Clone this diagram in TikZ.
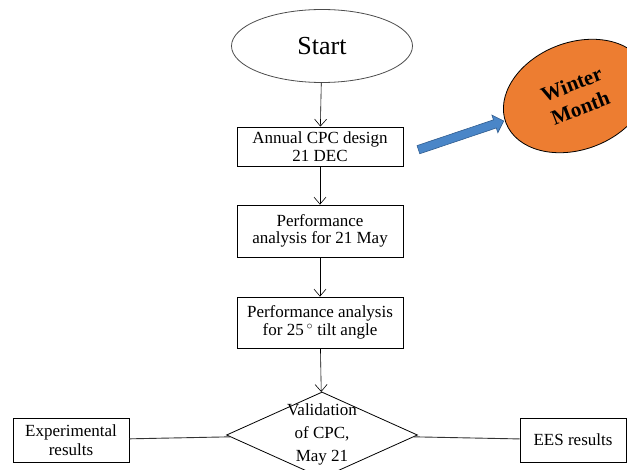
\documentclass[tikz,border=0pt]{standalone}
\usepackage{fontspec}
\setmainfont{Liberation Serif}
\usetikzlibrary{shapes.geometric,shapes.arrows,arrows.meta}
\definecolor{wintercol}{HTML}{ED7D31}
\definecolor{arrowcol}{HTML}{4A86C8}
\definecolor{arrowline}{HTML}{2F5C8F}
\begin{document}
\begin{tikzpicture}[x=1pt,y=-1pt]
        \useasboundingbox (0,0) rectangle (627,470);
        \tikzstyle{every node}=[text=black, align=center, inner sep=0pt]
        \tikzstyle{stage}=[rectangle, draw=black, line width=0.8pt, minimum width=166pt, font=\fontsize{17}{17.5}\selectfont]
        \tikzstyle{result}=[rectangle, draw=black, line width=0.8pt, minimum height=44pt, font=\fontsize{17}{19}\selectfont]
        \tikzstyle{edge}=[black, line width=0.6pt, -{Straight Barb[length=7pt,width=12pt]}]

        \node[ellipse, draw=black!70, line width=0.8pt, minimum width=181pt, minimum height=73pt, font=\fontsize{26}{28}\selectfont] (start) at (322,46) {Start};

        \node[stage, minimum height=39pt] (design) at (320,146.5) {Annual CPC design\\21 DEC};
        \node[stage, minimum height=52pt] (may)    at (320,231)   {Performance\\analysis for 21 May};
        \node[stage, minimum height=51pt] (tilt)   at (320,322.5) {Performance analysis\\for 25\,$^\circ$ tilt angle};

        \node[diamond, draw=black, line width=0.8pt, minimum width=191pt, minimum height=86pt, font=\fontsize{17}{23}\selectfont] (valid) at (322,435)
            {\makebox[0pt]{\raisebox{-3pt}[0pt][0pt]{\begin{tabular}{@{}c@{}}Validation\\of CPC,\\May 21\end{tabular}}}};

        \node[result, minimum width=116pt] (exp) at (71,440)  {Experimental\\results};
        \node[result, minimum width=106pt] (ees) at (573,440) {EES results};

        \node[ellipse, draw=black, line width=0.8pt, fill=wintercol, minimum width=150pt, minimum height=107pt, rotate=21, font=\bfseries\fontsize{21}{25}\selectfont] (winter) at (576,96) {Winter\\Month};

        \draw[edge] (start) -- (design);
        \draw[edge] (design) -- (may);
        \draw[edge] (may) -- (tilt);
        \draw[edge] (tilt) -- (valid);

        \tikzstyle{edge}=[black!80, line width=0.9pt]
        \draw[edge] (exp) -- (valid);
        \draw[edge] (valid) -- (ees);

        % blue block arrow towards the winter month
        \node[single arrow, draw=arrowline, fill=arrowcol, line width=0.6pt, inner ysep=4pt, minimum height=90pt, single arrow head extend=5pt, single arrow head indent=0pt, rotate=18.6] (toward) at (459,136) {};
\end{tikzpicture}
\end{document}
